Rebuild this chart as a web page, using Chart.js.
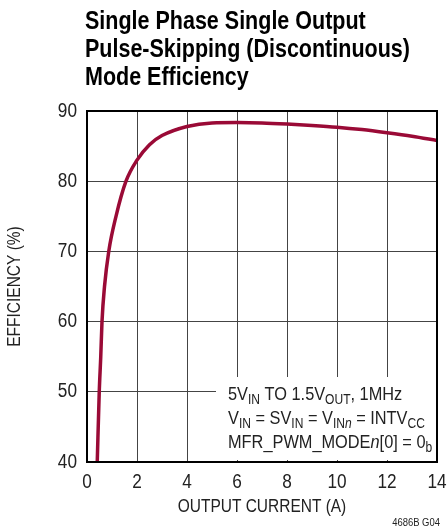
<!DOCTYPE html>
<html>
<head>
<meta charset="utf-8">
<script src="https://cdn.jsdelivr.net/npm/chart.js@4"></script>
<style>
  html, body { margin: 0; padding: 0; background: #fff; }
  #wrap { width: 448px; height: 531px; position: relative; }
</style>
</head>
<body>
<div id="wrap"><canvas id="eff"></canvas></div>
<script>
// Values
const currentA = [0.41, 0.49, 0.55, 0.6, 0.7, 0.87, 1.16, 1.56, 2, 2.5, 3, 4, 5, 6, 7, 8, 9, 10, 11, 12, 13, 14];
const efficiencyPct = [40, 50, 55, 60, 65, 70, 75, 80, 83, 85.2, 86.5, 87.8, 88.3, 88.35, 88.3, 88.15, 87.95, 87.7, 87.35, 86.9, 86.4, 85.8];
const titleLines = ['Single Phase Single Output', 'Pulse-Skipping (Discontinuous)', 'Mode Efficiency'];
const xTitle = 'OUTPUT CURRENT (A)';
const yTitle = 'EFFICIENCY (%)';
// annotation lines, split into plain / subscript / italic pieces
const noteLines = [
    [['5V'], ['IN', 'sub'], [' TO 1.5V'], ['OUT', 'sub'], [', 1MHz']],
    [['V'], ['IN', 'sub'], [' = SV'], ['IN', 'sub'], [' = V'], ['IN', 'sub'], ['n', 'subit'], [' = INTV'], ['CC', 'sub']],
    [['MFR_PWM_MODE'], ['n', 'it'], ['[0] = 0'], ['b', 'sub']]
];
const figCode = '4686B G04';

const FONT = '"Liberation Sans", Arial, sans-serif';
const INK = '#222';
const SX = 0.86; // horizontal squeeze to mimic a condensed face

// draw condensed text at (x, y)
function narrowText(ctx, txt, x, y, align, rot) {
    ctx.save();
    ctx.translate(x, y);
    if (rot) ctx.rotate(rot);
    ctx.scale(SX, 1);
    ctx.textAlign = align;
    ctx.fillText(txt, 0, 0);
    ctx.restore();
}

// title, tick labels, axis titles, plot frame, note box and figure code
const decorPlugin = {
    id: 'decor',
    afterDraw(chart) {
        const ctx = chart.ctx;
        const a = chart.chartArea;
        const xs = chart.scales.x, ys = chart.scales.y;
        ctx.save();
        ctx.textBaseline = 'alphabetic';

        // title
        ctx.fillStyle = '#000';
        ctx.font = 'bold 25px ' + FONT;
        titleLines.forEach((t, i) => narrowText(ctx, t, 85, 29 + i * 28, 'left'));

        // tick labels
        ctx.fillStyle = INK;
        ctx.font = '20px ' + FONT;
        ctx.textBaseline = 'middle';
        xs.ticks.forEach(t => narrowText(ctx, String(t.value), xs.getPixelForValue(t.value), a.bottom + 20, 'center'));
        ys.ticks.forEach(t => narrowText(ctx, String(t.value), a.left - 10, ys.getPixelForValue(t.value), 'right'));

        // axis titles
        ctx.font = '18px ' + FONT;
        narrowText(ctx, xTitle, (a.left + a.right) / 2, 507, 'center');
        narrowText(ctx, yTitle, 15, (a.top + a.bottom) / 2, 'center', -Math.PI / 2);
        ctx.textBaseline = 'alphabetic';

        // note box (white, hides the grid)
        const bx = a.left + 129, by = a.top + 266;
        ctx.fillStyle = '#fff';
        ctx.fillRect(bx, by, a.right - bx, a.bottom - 2 - by);

        ctx.fillStyle = INK;
        noteLines.forEach((segs, i) => {
            let x = bx + 12;
            const y = by + 23 + i * 24;
            segs.forEach(([txt, kind]) => {
                const sub = kind === 'sub' || kind === 'subit';
                const it = kind === 'it' || kind === 'subit';
                ctx.font = (it ? 'italic ' : '') + (sub ? '14px ' : '19px ') + FONT;
                narrowText(ctx, txt, x, sub ? y + 4 : y, 'left');
                x += ctx.measureText(txt).width * SX;
            });
        });

        // frame
        ctx.strokeStyle = '#000';
        ctx.lineWidth = 2;
        ctx.strokeRect(a.left, a.top, a.right - a.left, a.bottom - a.top);

        // figure code
        ctx.fillStyle = INK;
        ctx.font = '11px ' + FONT;
        narrowText(ctx, figCode, 440, 526, 'right');
        ctx.restore();
    }
};

new Chart(document.getElementById('eff'), {
    type: 'line',
    data: {
        datasets: [{
            data: currentA.map((x, i) => ({ x: x, y: efficiencyPct[i] })),
            borderColor: '#9a0a36',
            borderWidth: 3.5,
            pointRadius: 0,
            cubicInterpolationMode: 'monotone',
            fill: false
        }]
    },
    plugins: [decorPlugin],
    options: {
        responsive: true,
        maintainAspectRatio: false,
        animation: false,
        layout: { padding: { top: 111, right: 11, bottom: 0, left: 0 } },
        plugins: { legend: { display: false }, tooltip: { enabled: false } },
        scales: {
            x: {
                type: 'linear', min: 0, max: 14,
                afterFit: (s) => { s.height = 69; },
                ticks: { stepSize: 2, display: false },
                grid: { color: '#444', lineWidth: 1, drawTicks: false },
                border: { color: '#000', width: 2 }
            },
            y: {
                min: 40, max: 90,
                afterFit: (s) => { s.width = 87; },
                ticks: { stepSize: 10, display: false },
                grid: { color: '#444', lineWidth: 1, drawTicks: false },
                border: { color: '#000', width: 2 }
            }
        }
    }
});
</script>
</body>
</html>
